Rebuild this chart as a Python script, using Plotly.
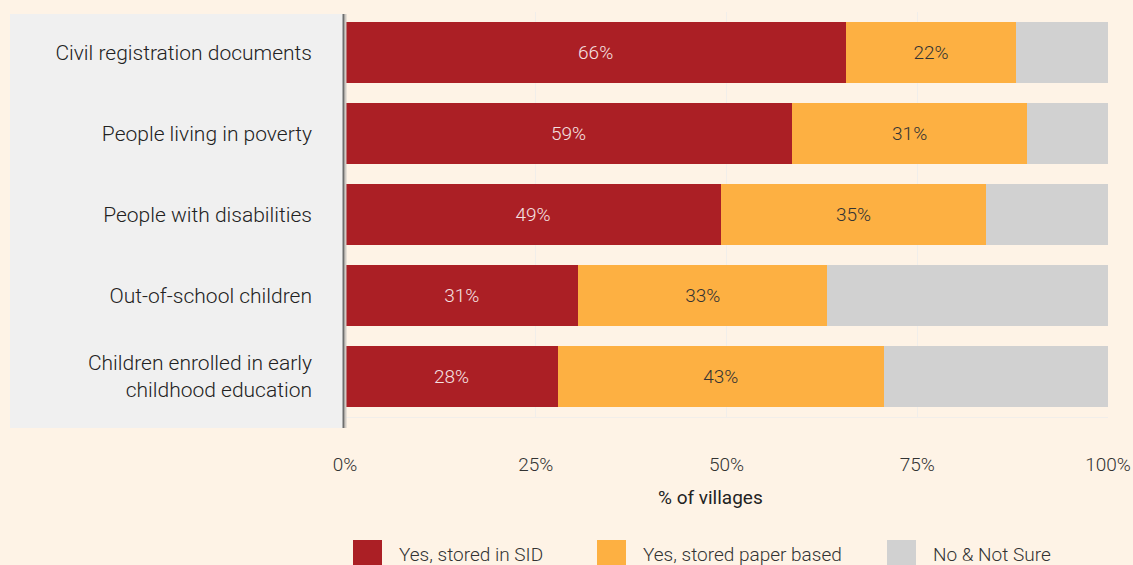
import plotly.graph_objects as go

categories = [
    "Civil registration documents",
    "People living in poverty",
    "People with disabilities",
    "Out-of-school children",
    "Children enrolled in early<br>childhood education",
]
stored_sid = [65.7, 58.6, 49.3, 30.6, 27.9]
stored_paper = [22.2, 30.8, 34.7, 32.6, 42.7]
no_not_sure = [12.1, 10.6, 16.0, 36.8, 29.4]
series_names = ["Yes, stored in SID", "Yes, stored paper based", "No & Not Sure"]
colors = ["#ab1f25", "#fdb042", "#d1d1d1"]
tick_vals = [0, 25, 50, 75, 100]
tick_text = ["0%", "25%", "50%", "75%", "100%"]

W, H = 1133, 565
L, R, T, B = 345, 25, 12, 148
pw, ph = W - L - R, H - T - B

def px(x):
    return (x - L) / pw

def py(y):
    return (H - B - y) / ph

FONT = "Roboto"
BG = "#fef3e6"

fig = go.Figure()
fig.add_trace(go.Bar(
    y=categories, x=stored_sid, orientation="h", name=series_names[0],
    marker=dict(color=colors[0], line=dict(width=0)),
    texttemplate="%{x:.0f}%", textposition="inside", insidetextanchor="middle",
    textangle=0, textfont=dict(family=FONT, size=19, color="#f5e1e1", weight=300),
))
fig.add_trace(go.Bar(
    y=categories, x=stored_paper, orientation="h", name=series_names[1],
    marker=dict(color=colors[1], line=dict(width=0)),
    texttemplate="%{x:.0f}%", textposition="inside", insidetextanchor="middle",
    textangle=0, textfont=dict(family=FONT, size=19, color="#333333", weight=300),
))
fig.add_trace(go.Bar(
    y=categories, x=no_not_sure, orientation="h", name=series_names[2],
    marker=dict(color=colors[2], line=dict(width=0)),
    hoverinfo="x",
))

shapes = [
    # label panel
    dict(type="rect", xref="paper", yref="paper", x0=px(10), x1=px(343), y0=py(428), y1=py(14),
         fillcolor="#f0f0f0", line=dict(width=0), layer="below"),
    # axis line with shadow
    dict(type="line", xref="paper", yref="paper", x0=px(345.5), x1=px(345.5), y0=py(428), y1=py(14),
         line=dict(color="#d0cbc5", width=2), layer="above"),
    dict(type="line", xref="paper", yref="paper", x0=px(343.5), x1=px(343.5), y0=py(428), y1=py(14),
         line=dict(color="#6e6e6e", width=2), layer="above"),
]
annotations = [
    dict(text="% of villages", xref="paper", yref="paper", x=px(710), y=py(497),
         xanchor="center", yanchor="middle", showarrow=False,
         font=dict(family=FONT, size=19, color="#222222", weight=400)),
]
legend_items = [(353, 397), (597, 641), (887, 931)]
for (sx, tx), name, col in zip(legend_items, series_names, colors):
    shapes.append(dict(type="rect", xref="paper", yref="paper", x0=px(sx), x1=px(sx + 29),
                       y0=py(569), y1=py(540), fillcolor=col, line=dict(width=0)))
    annotations.append(dict(text=name, xref="paper", yref="paper", x=px(tx), y=py(554),
                            xanchor="left", yanchor="middle", showarrow=False,
                            font=dict(family=FONT, size=19, color="#333333", weight=300)))

fig.update_layout(
    width=W, height=H,
    margin=dict(l=L, r=R, t=T, b=B, pad=0, autoexpand=False),
    barmode="stack", bargap=0.25,
    paper_bgcolor=BG, plot_bgcolor=BG,
    showlegend=False,
    shapes=shapes, annotations=annotations,
    font=dict(family=FONT, color="#333333"),
    xaxis=dict(range=[0, 100], tickvals=tick_vals, ticktext=tick_text,
               showgrid=True, gridcolor="#f1eeea", gridwidth=1,
               zeroline=False, showline=True, linecolor="#f1eeea", linewidth=1,
               ticks="", ticklabelstandoff=30, automargin=False,
               tickfont=dict(family=FONT, size=19, color="#333333", weight=300), fixedrange=True),
    yaxis=dict(autorange="reversed", showgrid=False, zeroline=False, showline=False,
               ticks="", ticklabelstandoff=32, automargin=False,
               tickfont=dict(family=FONT, size=21, color="#222222", weight=300), fixedrange=True),
)

fig.write_html("out.html")
